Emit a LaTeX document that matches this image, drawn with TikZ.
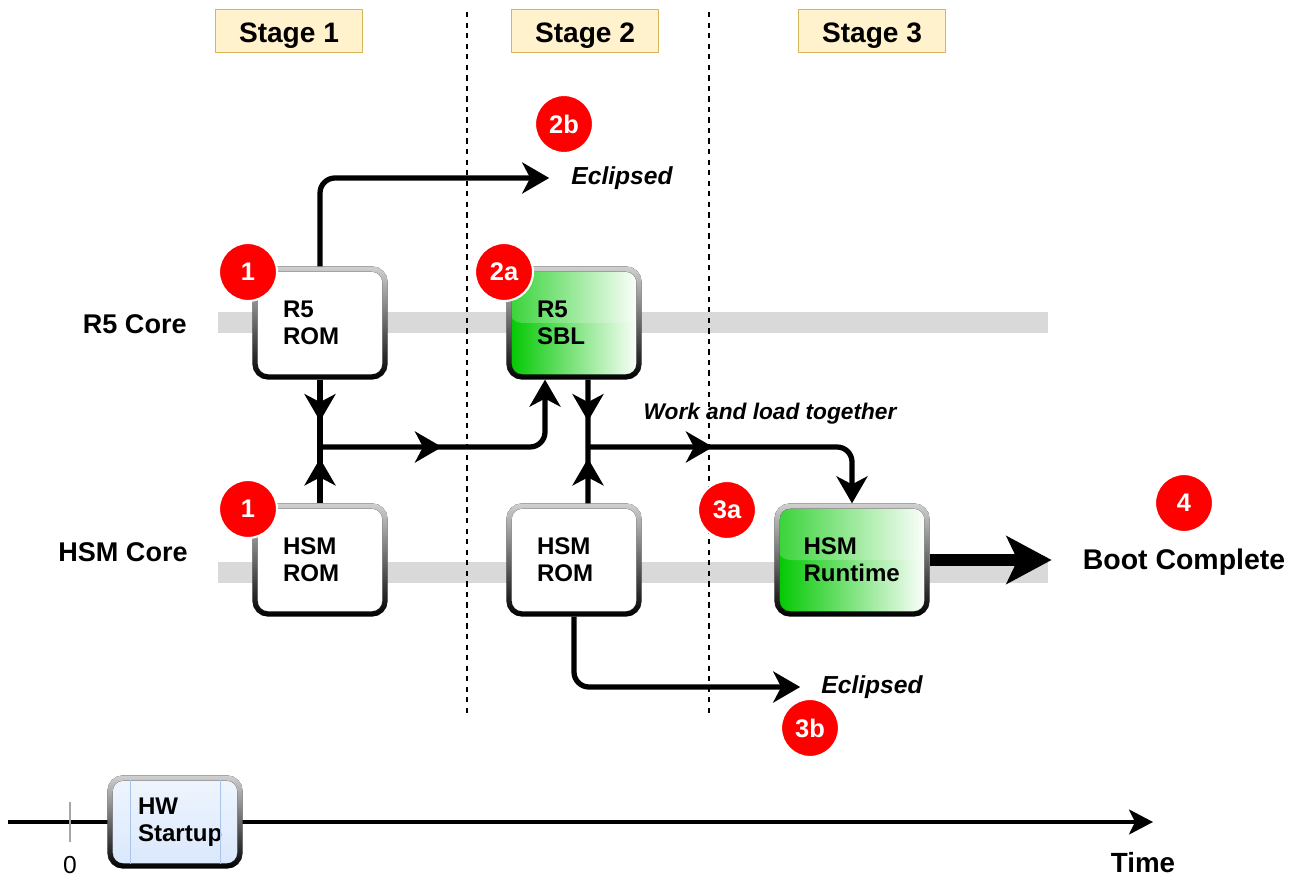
\documentclass[tikz,border=0pt]{standalone}
\usepackage{fontspec}
\setmainfont{Liberation Sans}
\usepackage{xcolor}
\usepackage{tikz}
\usetikzlibrary{arrows.meta,positioning,calc,fadings,decorations.markings}
\definecolor{stagefill}{HTML}{FFF2CC}
\definecolor{stageedge}{HTML}{D6B656}
\definecolor{hwfill}{HTML}{DAE8FC}
\definecolor{hwedge}{HTML}{A9C4EB}
\definecolor{sblgreen}{HTML}{00C800}
\tikzfading[name=glossfade, top color=transparent!0, middle color=transparent!100, bottom color=transparent!100]

\begin{document}
\begin{tikzpicture}[x=0.02cm, y=-0.02cm,
    stagebox/.style={draw=stageedge, fill=stagefill, line width=1.1pt, minimum width=2.94cm, minimum height=0.86cm, text height=0.48cm, text depth=0cm, font=\fontsize{16}{18}\selectfont\bfseries},
    lane/.style={fill=black!15},
    stageline/.style={black, line width=0.9pt, dash pattern=on 3pt off 3pt},
    corebox/.style={draw=black, line width=3pt, rounded corners=0.26cm, fill=white, minimum width=2.6cm, minimum height=2.16cm, text width=1.48cm, inner xsep=0pt, align=left, font=\fontsize{13.7}{15.4}\selectfont\bfseries, postaction={draw=black!18, line width=3pt, path fading=glossfade}},
    loaded/.style={left color=sblgreen, right color=white, path picture={\fill[white, opacity=0.22] (path picture bounding box.north west) rectangle (path picture bounding box.east);}},
    hwbox/.style={corebox, top color=hwfill!45, bottom color=hwfill, minimum height=1.76cm},
    badge/.style={circle, fill=red, draw=white, line width=1.2pt, minimum size=1.16cm, inner sep=0pt, text=white, font=\fontsize{14.5}{16}\selectfont\bfseries},
    lanelabel/.style={anchor=east, inner xsep=0pt, font=\fontsize{15.4}{18}\selectfont\bfseries},
    note/.style={font=\fontsize{14}{16}\selectfont\bfseries\itshape},
    conn/.style={line width=3pt, rounded corners=0.3cm},
    arrow/.style={conn, -{Stealth[length=0.54cm, width=0.62cm, inset=0.16cm]}},
    midarrow/.style={postaction={decorate, decoration={markings, mark=at position #1 with {\arrow{Stealth[length=0.54cm, width=0.62cm, inset=0.16cm]}}}}}
]
\useasboundingbox (0,0) rectangle (1298,878);

\fill[lane] (218,312) rectangle (1048,333);
\fill[lane] (218,562) rectangle (1048,583);
\foreach \x in {467,709} {\draw[stageline] (\x,12) -- (\x,718);}

\foreach \x/\n in {289/1,585/2,872/3} {\node[stagebox] (stage\n) at (\x,31) {Stage \n};}

\node[lanelabel] (r5lab) at (187,324) {R5 Core};
\node[lanelabel] (hsmlab) at (188,552) {HSM Core};

\node[corebox] (r5rom) at (320,323) {R5\\ROM};
\node[corebox] (hsmrom1) at (320,560) {HSM\\ROM};
\node[corebox, loaded] (r5sbl) at (574,323) {R5\\SBL};
\node[corebox] (hsmrom2) at (574,560) {HSM\\ROM};
\node[corebox, loaded, minimum width=3cm, text width=1.94cm] (hsmrt) at (852,560) {HSM\\Runtime};

\node[note] (ecl1) at (622,178) {Eclipsed};
\node[note] (ecl2) at (872,687) {Eclipsed};
\node[font=\fontsize{12.9}{15}\selectfont\bfseries\itshape] (work) at (770,414) {Work and load together};
\node[font=\fontsize{16.2}{19}\selectfont\bfseries] (boot) at (1184,562) {Boot Complete};

\coordinate (j1) at (320,447);
\coordinate (j2) at (588,447);

\draw[arrow] (r5rom.north) |- ([xshift=-0.32cm]ecl1.west);
\draw[conn, midarrow=0.83cm] (r5rom.south) -- (j1);
\draw[conn, midarrow=0.9cm] (hsmrom1.north) -- (j1);
\draw[arrow, midarrow=2.44cm] (j1) -| ([xshift=-0.58cm]r5sbl.south);
\draw[conn, midarrow=0.83cm] ([xshift=0.28cm]r5sbl.south) -- (j2);
\draw[conn, midarrow=0.9cm] ([xshift=0.28cm]hsmrom2.north) -- (j2);
\draw[arrow, midarrow=2.5cm] (j2) -| (hsmrt.north);
\draw[arrow] (hsmrom2.south) |- ([xshift=-0.3cm]ecl2.west);
\draw[line width=6.8pt, -{Stealth[length=0.9cm, width=0.95cm, inset=0.22cm]}] (hsmrt.east) -- ([xshift=-0.5cm]hsmrt.east -| boot.west);

\node[badge] (b1r) at (248,272) {1};
\node[badge] (b1h) at (248,509) {1};
\node[badge] (b2a) at (504,272) {2a};
\node[badge] (b2b) at (564,124) {2b};
\node[badge] (b3a) at (727,510) {3a};
\node[badge] (b3b) at (810,728) {3b};
\node[badge] (b4) at (1184,503) {4};

\coordinate (t0) at (8,822);
\coordinate (t1) at (1153,822);
\draw[line width=1.8pt, -{Stealth[length=0.48cm, width=0.5cm, inset=0.12cm]}] (t0) -- (t1);
\draw[gray!70, line width=1.6pt] (70,802) -- (70,842);
\node[font=\fontsize{14}{16}\selectfont] (zero) at (70,865) {0};
\node[hwbox] (hw) at (175,822) {HW\\Startup};
\draw[hwedge, line width=0.8pt] ($(hw.north west)+(23,5)$) -- ($(hw.south west)+(23,-5)$);
\draw[hwedge, line width=0.8pt] ($(hw.north east)+(-22,5)$) -- ($(hw.south east)+(-22,-5)$);
\node[font=\fontsize{15.8}{18}\selectfont\bfseries, inner sep=0pt, text depth=0pt] (time) at (1143,862) {Time};
\end{tikzpicture}
\end{document}
